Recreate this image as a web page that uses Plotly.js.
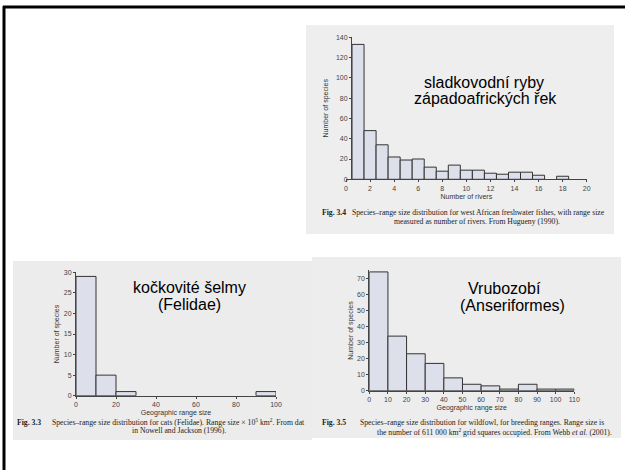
<!DOCTYPE html>
<html>
<head>
<meta charset="utf-8">
<script src="https://cdn.plot.ly/plotly-3.0.1.min.js"></script>
<style>html,body{margin:0;padding:0;background:#fff;}#chart{width:625px;height:470px;}</style>
</head>
<body>
<div id="chart"></div>
<script>
// --- Data ---
// Fig 3.4: west African freshwater fishes (range size = number of rivers)
const fishRivers  = [1, 2, 3, 4, 5, 6, 7, 8, 9, 10, 11, 12, 13, 14, 15, 16, 18];
const fishSpecies = [133, 48, 34, 22, 19, 20, 12, 8, 14, 9, 9, 6, 5, 7, 7, 4, 3];
const fishTicks   = [0, 2, 4, 6, 8, 10, 12, 14, 16, 18, 20];

// Fig 3.3: cats (Felidae), bins of width 10 (start of bin)
const catBinStart = [0, 10, 20, 90];
const catSpecies  = [29, 5, 1, 1];
const catTicks    = [0, 20, 40, 60, 80, 100];

// Fig 3.5: wildfowl (Anseriformes), bins of width 10 (start of bin)
const fowlBinStart = [0, 10, 20, 30, 40, 50, 60, 70, 80, 90, 100];
const fowlSpecies  = [74, 34, 23, 17, 8, 4, 3, 1, 4, 1, 1];
const fowlTicks    = [0, 10, 20, 30, 40, 50, 60, 70, 80, 90, 100, 110];

// --- Helpers ---
const W = 625, H = 470;
const px = v => v / W;
const py = v => 1 - v / H;

const barFill = '#dde0ea';
const barLine = {color: '#333', width: 1};
const axisCol = '#444';
const tickFont = {family: 'Liberation Sans, Arial, sans-serif', size: 7, color: '#444'};
const titleFont = {family: 'Liberation Sans, Arial, sans-serif', size: 7, color: '#333'};

const traces = [
  {type: 'bar', x: fishRivers, y: fishSpecies, width: 1,
   marker: {color: barFill, line: barLine}, xaxis: 'x', yaxis: 'y', hoverinfo: 'x+y'},
  {type: 'bar', x: catBinStart, y: catSpecies, width: 10, offset: 0,
   marker: {color: barFill, line: barLine}, xaxis: 'x2', yaxis: 'y2', hoverinfo: 'x+y'},
  {type: 'bar', x: fowlBinStart, y: fowlSpecies, width: 10, offset: 0,
   marker: {color: barFill, line: barLine}, xaxis: 'x3', yaxis: 'y3', hoverinfo: 'x+y'}
];

function xAx(domain, range, ticks, title, anchor, standoff) {
  return {domain, range, anchor, tickvals: ticks, ticktext: ticks.map(String),
    ticks: 'outside', ticklen: 2, tickcolor: axisCol, tickfont: tickFont,
    showline: true, linecolor: axisCol, linewidth: 1, showgrid: false, zeroline: false,
    fixedrange: true, automargin: false,
    title: {text: title, font: titleFont, standoff}};
}
function yAx(domain, range, dtick, anchorOpts, standoff) {
  return Object.assign({domain, range, dtick, tick0: 0,
    ticks: 'outside', ticklen: 2, tickcolor: axisCol, tickfont: tickFont,
    showline: true, linecolor: axisCol, linewidth: 1, showgrid: false, zeroline: false,
    fixedrange: true, automargin: false,
    title: {text: 'Number of species', font: titleFont, standoff}}, anchorOpts);
}

const capFont = {family: 'Liberation Serif, Times New Roman, serif', size: 7.7, color: '#222'};
const overlayFont = {family: 'Liberation Sans, Arial, sans-serif', size: 16, color: '#000'};

function ann(text, x, y, font, xanchor) {
  return {text, x: px(x), y: py(y), xref: 'paper', yref: 'paper',
    xanchor: xanchor || 'center', yanchor: 'middle', showarrow: false, font};
}

const layout = {
  width: W, height: H,
  margin: {l: 0, r: 0, t: 0, b: 0},
  paper_bgcolor: '#ffffff',
  plot_bgcolor: 'rgba(0,0,0,0)',
  showlegend: false,
  bargap: 0,
  xaxis:  xAx([px(346), px(586.7)], [0, 20], fishTicks, 'Number of rivers', 'y', 3),
  yaxis:  yAx([py(179.3), py(37.3)], [0, 140], 20, {anchor: 'free', position: px(351)}, 5),
  xaxis2: xAx([px(76), px(276)], [0, 100], catTicks, 'Geographic range size', 'y2', 3),
  yaxis2: yAx([py(395.7), py(272.3)], [0, 30], 5, {anchor: 'x2'}, 3),
  xaxis3: xAx([px(369.3), px(574.3)], [0, 110], fowlTicks, 'Geographic range size', 'y3', 3),
  yaxis3: yAx([py(390.7), py(270.3)], [0, 75], 10, {anchor: 'x3'}, 2),
  shapes: [
    // scanned page backgrounds
    {type: 'rect', xref: 'paper', yref: 'paper', x0: px(306), x1: px(614), y0: py(234), y1: py(25),
     fillcolor: '#eeeeee', line: {width: 0}, layer: 'below'},
    {type: 'rect', xref: 'paper', yref: 'paper', x0: px(13), x1: px(312), y0: py(440), y1: py(261),
     fillcolor: '#ececec', line: {width: 0}, layer: 'below'},
    {type: 'rect', xref: 'paper', yref: 'paper', x0: px(312), x1: px(621), y0: py(438), y1: py(257),
     fillcolor: '#ededed', line: {width: 0}, layer: 'below'},
    // slide frame (top and left)
    {type: 'line', xref: 'paper', yref: 'paper', x0: px(3), x1: 1, y0: py(7), y1: py(7),
     line: {color: '#000', width: 3}},
    {type: 'line', xref: 'paper', yref: 'paper', x0: px(4), x1: px(4), y0: py(6), y1: 0,
     line: {color: '#000', width: 3}}
  ],
  annotations: [
    // overlay labels
    ann('sladkovodní ryby', 484, 83, overlayFont),
    ann('západoafrických řek', 485.5, 98.5, overlayFont),
    ann('kočkovité šelmy', 189, 287.3, overlayFont),
    ann('(Felidae)', 189, 304.3, overlayFont),
    ann('Vrubozobí', 504, 288.5, overlayFont),
    ann('(Anseriformes)', 512.3, 305.5, overlayFont),
    // captions
    ann('<b>Fig. 3.4</b>', 320, 212.7, capFont, 'left'),
    ann('Species–range size distribution for west African freshwater fishes, with range size', 350, 212.7, capFont, 'left'),
    ann('measured as number of rivers. From Hugueny (1990).', 391.7, 221.3, capFont, 'left'),
    ann('<b>Fig. 3.3</b>', 15, 422.3, capFont, 'left'),
    ann('Species–range size distribution for cats (Felidae). Range size × 10<sup>5</sup> km<sup>2</sup>. From dat', 50, 422.3, capFont, 'left'),
    ann('in Nowell and Jackson (1996).', 130, 430.5, capFont, 'left'),
    ann('<b>Fig. 3.5</b>', 320, 422.7, capFont, 'left'),
    ann('Species–range size distribution for wildfowl, for breeding ranges. Range size is', 358.3, 422.7, capFont, 'left'),
    ann('the number of 611 000 km<sup>2</sup> grid squares occupied. From Webb <i>et al.</i> (2001).', 375, 432, capFont, 'left')
  ]
};

Plotly.newPlot('chart', traces, layout, {displayModeBar: false, staticPlot: true});
</script>
</body>
</html>
